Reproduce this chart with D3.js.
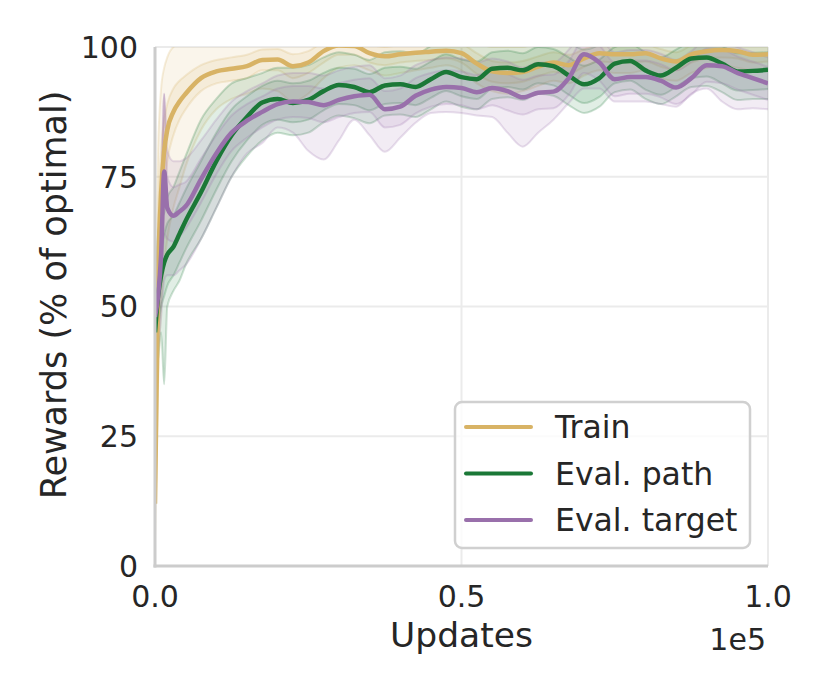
<!DOCTYPE html>
<html>
<head>
<meta charset="utf-8">
<script src="https://cdn.jsdelivr.net/npm/d3@7"></script>
<style>
  body { margin: 0; background: #fff; }
  svg { font-family: "DejaVu Sans", sans-serif; }
</style>
</head>
<body>
<svg id="chart" width="830" height="692"></svg>
<script>
// ---------------- DATA ----------------
var updates = [0, 500, 1000, 1500, 2000, 3000, 4000,
  5000, 7500, 10000, 12500, 15000, 17500, 20000, 22500, 25000, 27500,
  30000, 32500, 35000, 37500, 40000, 42500, 45000, 47500, 50000, 52500,
  55000, 57500, 60000, 62500, 65000, 67500, 70000, 72500, 75000, 77500,
  80000, 82500, 85000, 87500, 90000, 92500, 95000, 97500, 100000];

// Train
var trainMean = [12, 55, 72, 80, 84, 87.5, 89.5,
  91, 94, 95.3, 95.8, 96.3, 97.5, 97.6, 96.3, 97, 99.2,
  100.3, 100.2, 98.8, 98.2, 98.6, 98.9, 99.1, 99.3, 98.8, 96.8,
  95.3, 95, 95.2, 96.2, 97, 96.5, 97.8, 98.8, 98.6, 98.6,
  98.8, 97.8, 97.2, 98.6, 99.2, 99.4, 99.2, 98.5, 98.6];
var trainLo1 = [10, 45, 64, 73, 78, 83, 86,
  88, 91.5, 93, 93.5, 94, 95.5, 95.5, 94, 95, 97,
  98.5, 98.5, 97, 96.5, 97, 97.3, 97.5, 97.8, 97, 94.8,
  93.3, 93, 93.3, 94.3, 95.2, 94.8, 96.2, 97.2, 97, 97,
  97.2, 96.2, 95.5, 97, 97.8, 98, 97.8, 97, 97.2];
var trainHi1 = [14, 65, 80, 86, 89, 92, 93.5,
  94.5, 96.5, 97.5, 98, 98.5, 99.5, 99.6, 98.6, 99.2, 101,
  102, 102, 100.6, 100, 100.4, 100.6, 100.8, 101, 100.6, 98.8,
  97.3, 97, 97.3, 98.2, 99, 98.5, 99.6, 100.5, 100.3, 100.3,
  100.5, 99.6, 99, 100.3, 100.8, 101, 100.8, 100.2, 100.3];
var trainLo2 = [5, 35, 50, 58, 63, 69, 73,
  77, 84, 88, 90, 91, 92, 91.5, 89.5, 91, 94,
  96, 96.5, 95.5, 94.5, 95, 95.5, 96, 96.5, 95.5, 93,
  91.5, 91, 91.5, 92.5, 93.5, 93, 94.5, 95.5, 95, 95,
  95.5, 94, 93.5, 95, 96, 96.5, 96, 95.5, 95.5];
var trainHi2 = [20, 80, 92, 96, 98, 100, 100.5,
  100.5, 100.5, 100.5, 100.8, 101, 101.5, 101.5, 101, 101.5, 103,
  104, 104, 103, 102.5, 102.8, 103, 103, 103, 102.8, 101,
  100, 100, 100, 101, 101.5, 101, 102, 103, 103, 103,
  103, 102, 101.5, 102.5, 103, 103, 103, 102.5, 102.5];

// Eval. path
var pathMean = [45, 52, 56, 58.5, 60, 61.5, 64,
  66.5, 72, 78, 83, 86.5, 89.3, 90, 89.2, 89.8, 91.5,
  92.7, 92.3, 91.3, 92.6, 92.8, 92.3, 93.8, 95.2, 94.2, 93.8,
  95.8, 96, 95.5, 96.7, 96.3, 94.5, 92.8, 94, 96.8, 97.3,
  95.5, 94.5, 96, 97.8, 98, 96.8, 95.3, 95.4, 95.6];
var pathLo1 = [40, 46, 50, 52, 54, 56, 58.5,
  61, 66.5, 72.5, 78, 82, 85, 86, 85.5, 86, 87.8,
  89, 88.8, 87.8, 89, 89.2, 88.8, 90.2, 91.5, 90.5, 90,
  92, 92.3, 91.8, 93, 92.6, 90.8, 89.2, 90.4, 93, 93.5,
  91.8, 90.8, 92.3, 94, 94.3, 93, 91.6, 91.7, 91.9];
var pathHi1 = [50, 58, 61, 64, 66, 67.5, 70,
  72.5, 78, 83.5, 88, 90.5, 92.5, 93.5, 93, 93.5, 95,
  96, 95.8, 94.8, 96, 96.2, 95.8, 97.2, 98.6, 97.6, 97.2,
  99, 99.3, 98.8, 100, 99.6, 98, 96.4, 97.6, 100, 100.6,
  99, 98, 99.5, 101, 101.2, 100.2, 98.8, 98.9, 99];
var pathLo2 = [36, 40, 45, 35, 50, 53, 55,
  58, 63, 69, 75, 79, 82, 83.5, 83, 83.5, 85.5,
  86.8, 86.3, 85.3, 86.8, 87, 86.5, 88, 89.5, 88.5, 88,
  90, 90.3, 89.8, 91, 90.6, 88.8, 87.3, 88.5, 91.3, 91.8,
  90, 89, 90.5, 92.3, 92.5, 91.3, 89.8, 90, 90];
var pathHi2 = [56, 64, 67, 68, 71, 73, 76,
  79, 86, 90, 93, 94, 95, 96, 96, 96.5, 98,
  99, 98.5, 97.5, 99, 99.2, 98.7, 100.2, 101.5, 100.5, 100.2,
  102, 102.3, 101.8, 103, 102.5, 101, 99.5, 100.5, 103, 103.5,
  102, 101, 102.5, 104, 104, 103, 101.5, 101.6, 101.8];

// Eval. target
var targetMean = [48, 52, 60, 76, 69, 67.5, 68.3,
  69.3, 74.5, 79.5, 83.5, 85.8, 87.5, 89, 89.5, 89.4, 88.8,
  89.8, 90.5, 90.8, 88, 88.5, 90.6, 91.8, 92.3, 92.1, 91.3,
  92.1, 91.5, 90.3, 91.2, 91.4, 94, 98.6, 97, 93.8, 94.2,
  94.2, 93.5, 92.2, 94, 96.5, 96.3, 95, 94, 93];
var targetLo1 = [44, 47, 54, 64, 63, 62.5, 63.5,
  65, 70, 75.5, 80, 82.5, 84.5, 86, 86.5, 86.3, 85.5,
  86.5, 87.3, 87.5, 84.5, 85, 87.2, 88.5, 89, 88.8, 88,
  88.8, 87.8, 87, 88, 88.2, 90.8, 95, 93.5, 90.5, 91,
  91, 90.3, 89, 90.8, 93.3, 93, 91.8, 90.8, 89.8];
var targetHi1 = [52, 57, 66, 91, 75, 73, 73.5,
  74, 78.5, 83, 86.8, 89, 90.5, 92, 92.5, 92.5, 92,
  93, 93.7, 94, 91.5, 92, 94, 95, 95.5, 95.3, 94.6,
  95.4, 94.8, 93.7, 94.5, 94.7, 97.3, 101.5, 100.3, 97, 97.4,
  97.4, 96.7, 95.5, 97.2, 99.7, 99.5, 98.2, 97.2, 96.2];
var targetLo2 = [38, 42, 48, 55, 56, 56, 57,
  58, 63, 69, 75, 79.5, 81.5, 84.5, 83.5, 80, 78.3,
  82, 86, 83, 79.8, 82.5, 85.4, 87.3, 87.5, 87.3, 86.8,
  86.5, 83.5, 80.8, 83.5, 86, 89.2, 92, 92, 89.5, 89.5,
  89.5, 89, 88.5, 91, 92, 89.5, 88, 88.2, 88];
var targetHi2 = [56, 62, 72, 91, 80, 78, 78,
  78.5, 82, 86, 89.5, 91.5, 93, 94.5, 95, 95, 94.5,
  95.5, 96.2, 96.5, 94, 94.5, 96.5, 97.5, 98, 97.8, 97,
  97.8, 97.2, 96, 97, 97, 99.5, 103, 102, 99, 99.4,
  99.4, 98.7, 97.5, 99.2, 101.5, 101.2, 100, 99, 98];

var seriesNames = ["Train", "Eval. path", "Eval. target"];
var xTicks = [0, 50000, 100000];
var xTickLabels = ["0.0", "0.5", "1.0"];
var yTicks = [0, 25, 50, 75, 100];

// ---------------- SETUP ----------------
var colours = ["#d8b365", "#1b7837", "#9970ab"];

var series = [
  { name: seriesNames[0], colour: colours[0], mean: trainMean,
    bands: [[trainLo2, trainHi2], [trainLo1, trainHi1]] },
  { name: seriesNames[1], colour: colours[1], mean: pathMean,
    bands: [[pathLo2, pathHi2], [pathLo1, pathHi1]] },
  { name: seriesNames[2], colour: colours[2], mean: targetMean,
    bands: [[targetLo2, targetHi2], [targetLo1, targetHi1]] }
];

var plot = { left: 155, right: 768, top: 47, bottom: 566 };

var svg = d3.select("#chart");

var xScale = d3.scaleLinear().domain([0, 100000]).range([plot.left, plot.right]);
var yScale = d3.scaleLinear().domain([0, 100]).range([plot.bottom, plot.top]);

svg.append("defs").append("clipPath").attr("id", "plotClip")
  .append("rect")
  .attr("x", plot.left).attr("y", plot.top)
  .attr("width", plot.right - plot.left).attr("height", plot.bottom - plot.top);

// ---------------- GRID ----------------
var grid = svg.append("g").classed("grid", true);

grid.selectAll("line.h").data(yTicks.slice(1)).enter().append("line")
  .attr("x1", plot.left).attr("x2", plot.right)
  .attr("y1", function (d) { return yScale(d); })
  .attr("y2", function (d) { return yScale(d); })
  .style("stroke", "#ebebeb").style("stroke-width", 2);

grid.selectAll("line.v").data(xTicks.slice(1)).enter().append("line")
  .attr("y1", plot.top).attr("y2", plot.bottom)
  .attr("x1", function (d) { return xScale(d); })
  .attr("x2", function (d) { return xScale(d); })
  .style("stroke", "#ebebeb").style("stroke-width", 2);

// ---------------- SERIES ----------------
// bands go in one layer underneath, mean lines in a layer on top
// (matplotlib puts fill_between collections below lines)
var bandLayer = svg.append("g").attr("clip-path", "url(#plotClip)");
var lineLayer = svg.append("g").attr("clip-path", "url(#plotClip)");

function bandArea(lo, hi) {
  return d3.area()
    .x(function (d, i) { return xScale(updates[i]); })
    .y0(function (d, i) { return yScale(lo[i]); })
    .y1(function (d, i) { return yScale(hi[i]); })
    .curve(d3.curveMonotoneX);
}

function valueLine(values) {
  return d3.line()
    .x(function (d, i) { return xScale(updates[i]); })
    .y(function (d, i) { return yScale(values[i]); })
    .curve(d3.curveMonotoneX);
}

series.forEach(function (s) {
  var grp = bandLayer.append("g").classed("bands", true);

  s.bands.forEach(function (b) {
    grp.append("path")
      .datum(updates)
      .attr("d", bandArea(b[0], b[1]))
      .style("fill", s.colour)
      .style("fill-opacity", 0.13)
      .style("stroke", "none");

    // faint outline of each band, like matplotlib fill_between edges
    [b[0], b[1]].forEach(function (edge) {
      grp.append("path")
        .datum(updates)
        .attr("d", valueLine(edge))
        .style("fill", "none")
        .style("stroke", s.colour)
        .style("stroke-opacity", 0.22)
        .style("stroke-width", 2);
    });
  });

  lineLayer.append("path")
    .datum(updates)
    .attr("d", valueLine(s.mean))
    .style("fill", "none")
    .style("stroke", s.colour)
    .style("stroke-width", 4.5)
    .style("stroke-linejoin", "round");
});

// ---------------- AXES ----------------
svg.append("line")
  .attr("x1", plot.left).attr("x2", plot.left)
  .attr("y1", plot.top).attr("y2", plot.bottom + 1.5)
  .style("stroke", "#cccccc").style("stroke-width", 3);
svg.append("line")
  .attr("x1", plot.left - 1.5).attr("x2", plot.right)
  .attr("y1", plot.bottom).attr("y2", plot.bottom)
  .style("stroke", "#cccccc").style("stroke-width", 3);

svg.selectAll("text.ytick").data(yTicks).enter().append("text")
  .classed("ytick", true)
  .attr("x", 138)
  .attr("y", function (d) { return yScale(d); })
  .attr("dy", "0.36em")
  .attr("text-anchor", "end")
  .style("font-size", "30px").style("fill", "#262626")
  .text(function (d) { return d; });

svg.selectAll("text.xtick").data(xTicks).enter().append("text")
  .classed("xtick", true)
  .attr("x", function (d) { return xScale(d); })
  .attr("y", 607)
  .attr("text-anchor", "middle")
  .style("font-size", "30px").style("fill", "#262626")
  .text(function (d, i) { return xTickLabels[i]; });

svg.append("text")
  .attr("x", 766).attr("y", 650)
  .attr("text-anchor", "end")
  .style("font-size", "30px").style("fill", "#262626")
  .text("1e5");

svg.append("text")
  .attr("x", xScale(50000)).attr("y", 647)
  .attr("text-anchor", "middle")
  .style("font-size", "34.5px").style("fill", "#262626")
  .text("Updates");

svg.append("text")
  .attr("transform", "translate(66,295) rotate(-90)")
  .attr("text-anchor", "middle")
  .style("font-size", "35px").style("fill", "#262626")
  .text("Rewards (% of optimal)");

// ---------------- LEGEND ----------------
var legend = svg.append("g").attr("transform", "translate(455,402)");

legend.append("rect")
  .attr("width", 295).attr("height", 146)
  .attr("rx", 7).attr("ry", 7)
  .style("fill", "#ffffff").style("fill-opacity", 0.8)
  .style("stroke", "#d0d0d0").style("stroke-width", 2.5);

var items = legend.selectAll("g.item").data(series).enter().append("g")
  .classed("item", true)
  .attr("transform", function (d, i) { return "translate(0," + (25 + i * 46.5) + ")"; });

items.append("line")
  .attr("x1", 11).attr("x2", 76)
  .style("stroke", function (d) { return d.colour; })
  .style("stroke-width", 4).style("stroke-linecap", "round");

items.append("text")
  .attr("x", 100).attr("dy", "0.36em")
  .style("font-size", "31.5px").style("fill", "#262626")
  .text(function (d) { return d.name; });
</script>
</body>
</html>
